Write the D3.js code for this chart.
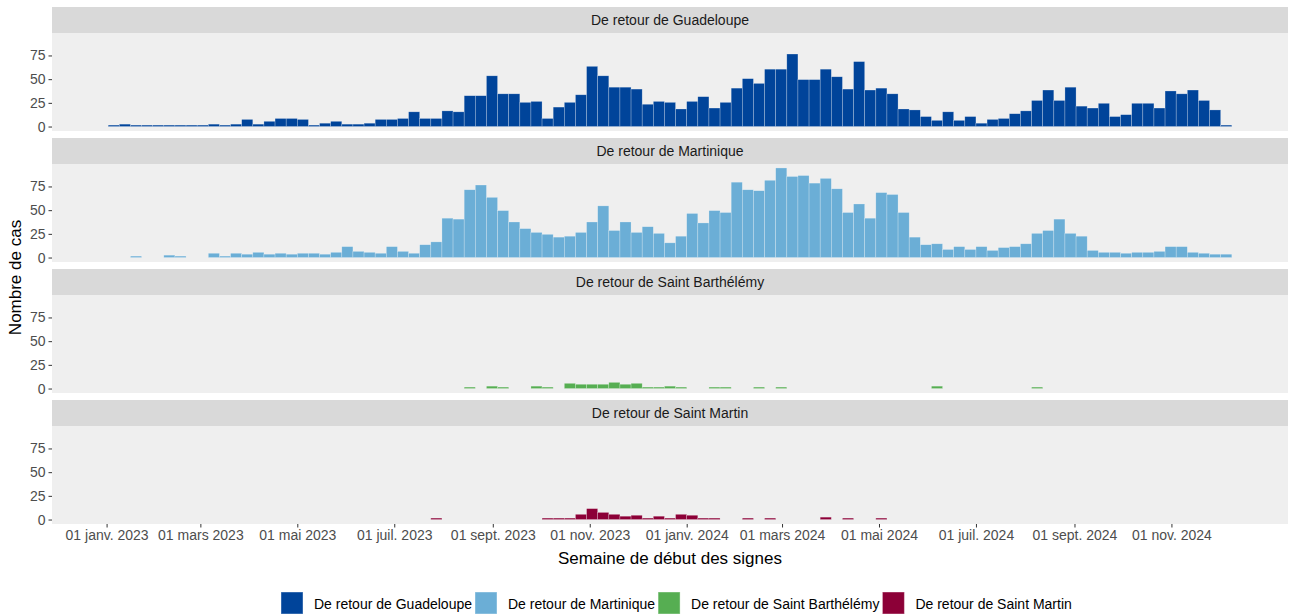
<!DOCTYPE html>
<html>
<head>
<meta charset="utf-8">
<script src="https://cdn.jsdelivr.net/npm/d3@7"></script>
<style>
  body { margin: 0; background: #fff; }
  svg { display: block; font-family: "Liberation Sans", Arial, sans-serif; }
</style>
</head>
<body>
<div id="chart"></div>
<script>
// first week (Monday) of the series, then one count per week
const firstWeek = "2023-01-02";

const guadeloupe = [1,2,1,1,1,1,1,1,1,2, 1,2,7,2,5,8,8,7,1,3, 5,2,2,3,7,7,8,15,8,8,
  16,15,32,32,53,34,34,25,26,8, 20,25,33,63,53,41,41,39,23,26, 25,18,26,31,19,25,40,50,45,60,
  60,76,49,49,60,52,39,68,38,40, 34,18,17,10,6,15,6,10,3,7, 8,13,16,27,38,27,41,21,19,24,
  10,12,24,24,19,37,34,38,27,17, 1];
const martinique = [0,0,1,0,0,2,1,0,0,4, 1,4,3,5,3,4,3,4,4,3, 5,11,6,5,4,11,6,4,13,16,
  41,40,71,76,63,49,37,30,26,24, 21,22,26,37,54,28,37,26,32,25, 15,22,46,36,49,47,79,71,70,81,
  94,85,86,78,83,72,47,56,41,68, 66,47,21,13,14,8,11,8,11,7, 10,11,14,25,28,40,25,22,7,5,
  5,4,5,5,6,11,11,5,4,3, 3];
const saintBarth = [0,0,0,0,0,0,0,0,0,0, 0,0,0,0,0,0,0,0,0,0, 0,0,0,0,0,0,0,0,0,0,
  0,0,1,0,2,1,0,0,2,1, 0,5,4,4,4,6,4,5,1,1, 2,1,0,0,1,1,0,0,1,0,
  1,0,0,0,0,0,0,0,0,0, 0,0,0,0,2,0,0,0,0,0, 0,0,0,1,0,0,0,0,0,0,
  0,0,0,0,0,0,0,0,0,0, 0];
const saintMartin = [0,0,0,0,0,0,0,0,0,0, 0,0,0,0,0,0,0,0,0,0, 0,0,0,0,0,0,0,0,0,1,
  0,0,0,0,0,0,0,0,0,1, 1,1,5,11,7,5,3,4,1,3, 1,5,4,1,1,0,0,1,0,1,
  0,0,0,0,2,0,1,0,0,1, 0,0,0,0,0,0,0,0,0,0, 0,0,0,0,0,0,0,0,0,0,
  0,0,0,0,0,0,0,0,0,0, 0];

const seriesNames = ["De retour de Guadeloupe", "De retour de Martinique",
  "De retour de Saint Barthélémy", "De retour de Saint Martin"];
const seriesValues = [guadeloupe, martinique, saintBarth, saintMartin];
const seriesColors = ["#00449a", "#6baed6", "#56ae52", "#8c0037"];

const yTicks = [0, 25, 50, 75];
const xTickDates = ["2023-01-01","2023-03-01","2023-05-01","2023-07-01","2023-09-01","2023-11-01",
  "2024-01-01","2024-03-01","2024-05-01","2024-07-01","2024-09-01","2024-11-01"];

const W = 1289, H = 615;
const left = 52, right = 1288;
const stripTop = 7, stripH = 26, bodyH = 98, step = 131;
const FONT = "'Liberation Sans', Arial, sans-serif";

const fr = d3.timeFormatLocale({
  dateTime: "%A %e %B %Y à %X", date: "%d/%m/%Y", time: "%H:%M:%S",
  periods: ["AM", "PM"],
  days: ["dimanche","lundi","mardi","mercredi","jeudi","vendredi","samedi"],
  shortDays: ["dim.","lun.","mar.","mer.","jeu.","ven.","sam."],
  months: ["janvier","février","mars","avril","mai","juin","juillet","août","septembre","octobre","novembre","décembre"],
  shortMonths: ["janv.","févr.","mars","avr.","mai","juin","juil.","août","sept.","oct.","nov.","déc."]
});
const fmt = fr.format("%d %b %Y");
const parse = d3.timeParse("%Y-%m-%d");

const start = parse(firstWeek);
const weeks = d3.range(guadeloupe.length).map((i) => d3.timeDay.offset(start, 7 * i));
const dataStart = weeks[0];
const dataEnd = d3.timeDay.offset(weeks[weeks.length - 1], 7);
const pad = (dataEnd - dataStart) * 0.05;

const x = d3.scaleTime(
  [new Date(+dataStart - pad), new Date(+dataEnd + pad)],
  [left, right]
);

const yMax = d3.max(seriesValues, (s) => d3.max(s));

const svg = d3.select("#chart").append("svg")
  .attr("width", W).attr("height", H)
  .attr("viewBox", [0, 0, W, H]);

seriesValues.forEach((vals, i) => {
  const sTop = stripTop + i * step;
  const bTop = sTop + stripH;
  const y = d3.scaleLinear([-0.05 * yMax, yMax * 1.05], [bTop + bodyH, bTop]);

  // strip
  svg.append("rect")
    .attr("x", left).attr("y", sTop)
    .attr("width", right - left).attr("height", stripH)
    .attr("fill", "#d9d9d9");
  svg.append("text")
    .attr("x", (left + right) / 2).attr("y", sTop + stripH / 2 + 5)
    .attr("text-anchor", "middle")
    .attr("font-size", 14).attr("fill", "#1a1a1a")
    .text(seriesNames[i]);

  // panel background
  svg.append("rect")
    .attr("x", left).attr("y", bTop)
    .attr("width", right - left).attr("height", bodyH)
    .attr("fill", "#efefef");

  // bars
  svg.append("g")
    .selectAll("rect")
    .data(vals.map((v, k) => ({ date: weeks[k], v })).filter((d) => d.v > 0))
    .join("rect")
    .attr("x", (d) => x(d.date))
    .attr("width", (d) => x(d3.timeDay.offset(d.date, 7)) - x(d.date))
    .attr("y", (d) => y(d.v) - 0.5)
    .attr("height", (d) => y(0) - y(d.v) + 0.5)
    .attr("fill", seriesColors[i])
    .attr("stroke", "rgba(255,255,255,0.4)")
    .attr("stroke-width", 0.6);

  // y axis
  svg.append("g")
    .attr("transform", `translate(${left},0)`)
    .call(d3.axisLeft(y).tickValues(yTicks).tickSize(3.5).tickPadding(3))
    .call((g) => g.select(".domain").remove())
    .call((g) => g.selectAll(".tick line").attr("stroke", "#333"))
    .call((g) => g.selectAll(".tick text")
      .attr("font-size", 14).attr("fill", "#4d4d4d")
      .attr("font-family", FONT));
});

// x axis under last panel
const axisY = stripTop + 3 * step + stripH + bodyH;
svg.append("g")
  .attr("transform", `translate(0,${axisY})`)
  .call(d3.axisBottom(x).tickValues(xTickDates.map(parse)).tickFormat(fmt)
    .tickSize(3.5).tickPadding(3))
  .call((g) => g.select(".domain").remove())
  .call((g) => g.selectAll(".tick line").attr("stroke", "#333"))
  .call((g) => g.selectAll(".tick text")
    .attr("font-size", 14).attr("fill", "#4d4d4d")
    .attr("font-family", FONT));

// axis titles
svg.append("text")
  .attr("x", (left + right) / 2).attr("y", 564)
  .attr("text-anchor", "middle")
  .attr("font-size", 17).attr("fill", "#000")
  .text("Semaine de début des signes");

svg.append("text")
  .attr("transform", `translate(21,${(stripTop + axisY) / 2 + 12}) rotate(-90)`)
  .attr("text-anchor", "middle")
  .attr("font-size", 17).attr("fill", "#000")
  .text("Nombre de cas");

// legend
const legend = svg.append("g");
let lx = 281;
seriesNames.forEach((name, i) => {
  legend.append("rect")
    .attr("x", lx).attr("y", 592)
    .attr("width", 22).attr("height", 22)
    .attr("fill", seriesColors[i])
    .attr("stroke", "rgba(255,255,255,0.4)");
  const t = legend.append("text")
    .attr("x", lx + 33).attr("y", 609)
    .attr("font-size", 14).attr("fill", "#000")
    .text(name);
  lx += 33 + t.node().getComputedTextLength() + 3;
});
</script>
</body>
</html>
